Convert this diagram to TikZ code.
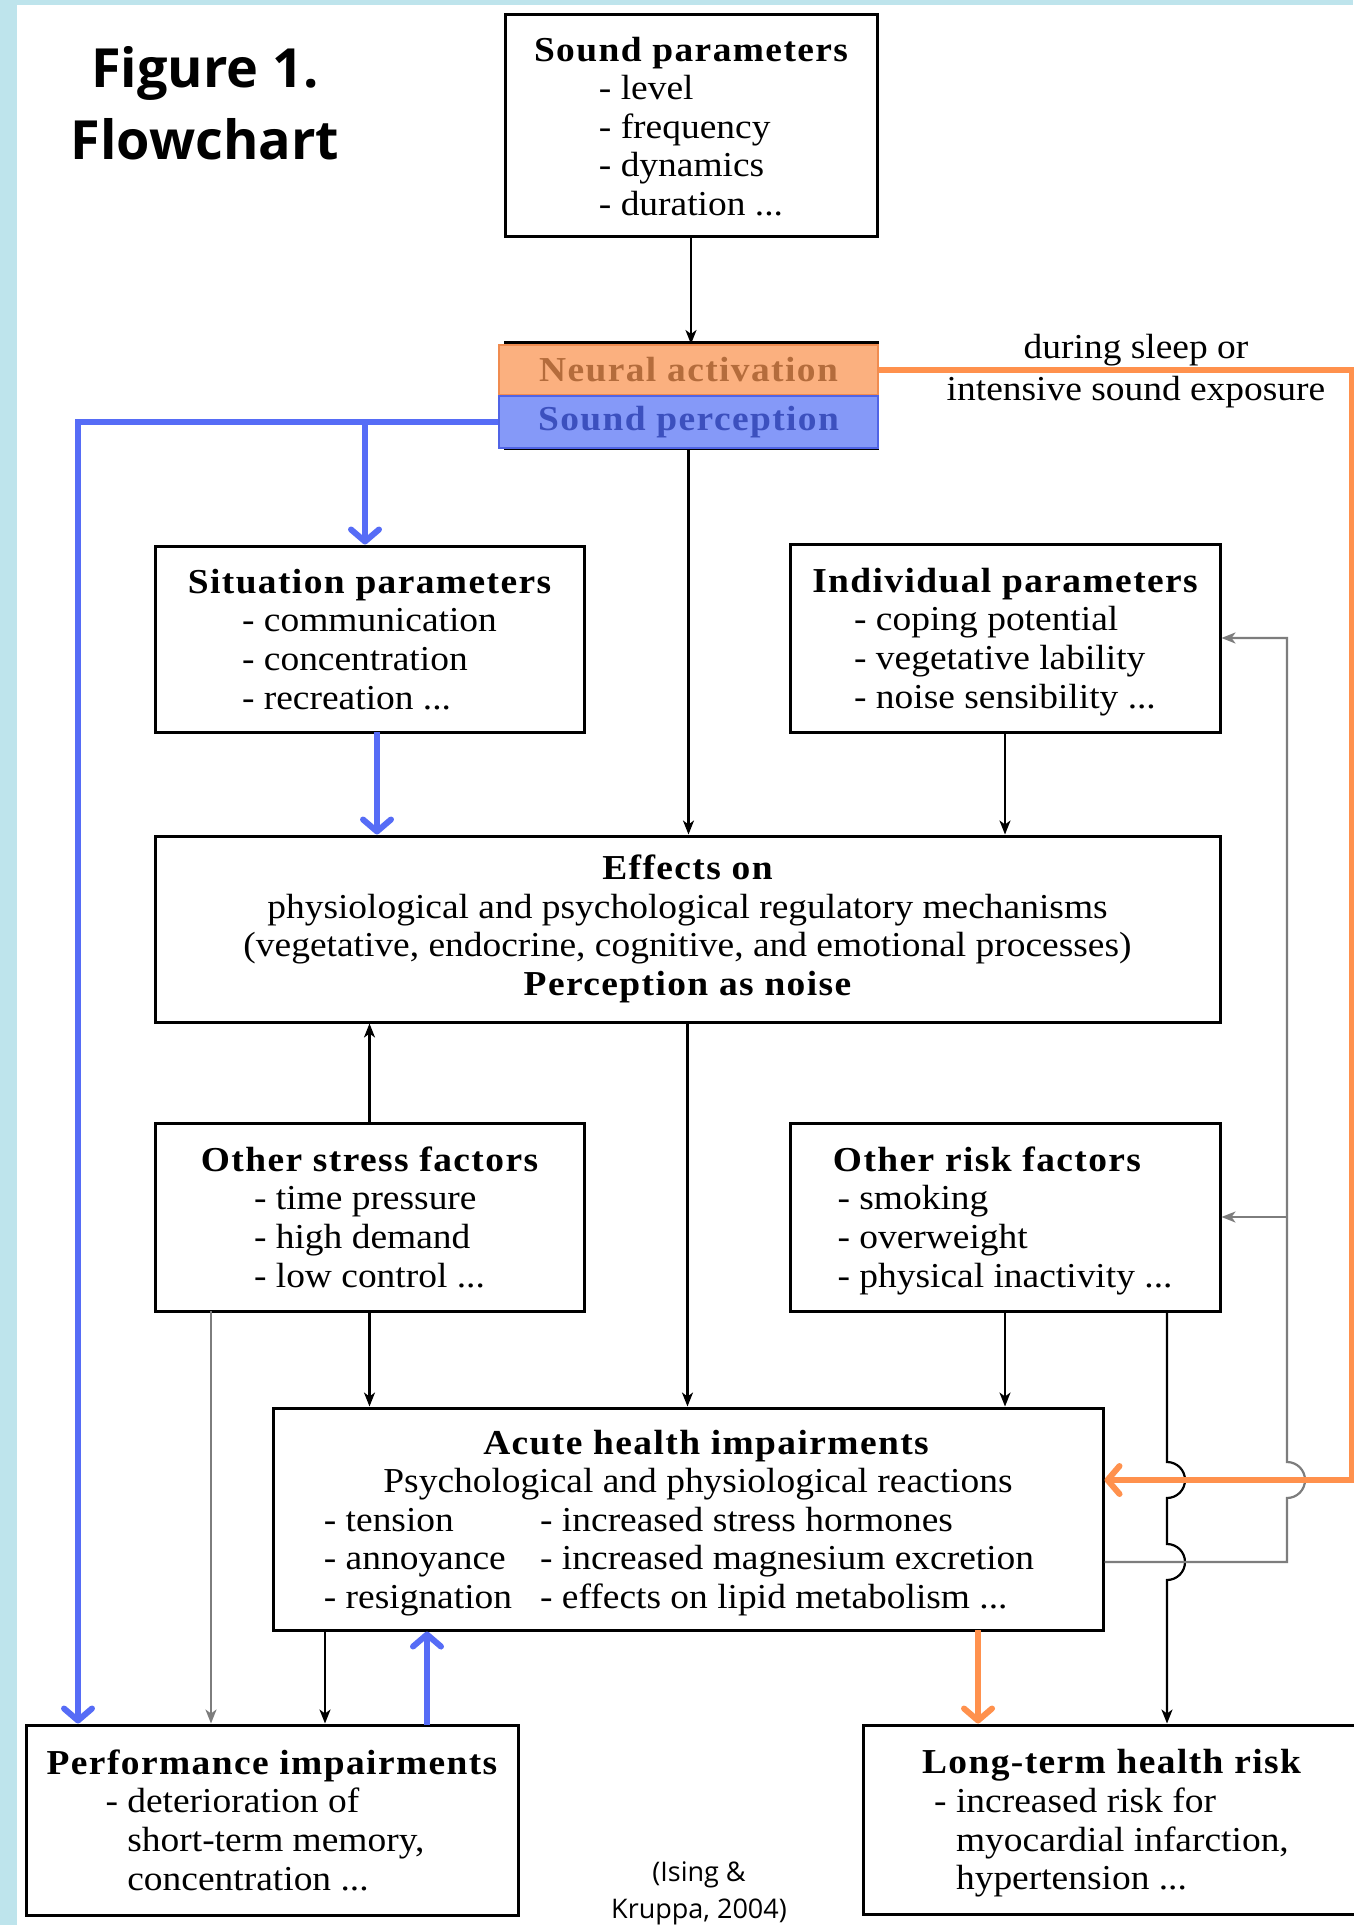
\documentclass[tikz,border=0pt]{standalone}
\usepackage{fontspec}
\setmainfont{Liberation Serif}[FakeStretch=1.07]
\newfontfamily\capfont{Open Sans}
\usetikzlibrary{arrows.meta}

\definecolor{bgblue}{RGB}{190,228,236}
\definecolor{orfill}{RGB}{251,176,127}
\definecolor{ordraw}{RGB}{240,140,80}
\definecolor{ortext}{RGB}{180,108,60}
\definecolor{blfill}{RGB}{133,153,248}
\definecolor{bldraw}{RGB}{80,100,230}
\definecolor{bltext}{RGB}{60,80,190}
\definecolor{blline}{RGB}{86,108,246}
\definecolor{orline}{RGB}{255,145,77}
\definecolor{grline}{RGB}{125,125,125}

\newcommand{\boxtitle}[1]{{\bfseries\addfontfeature{LetterSpace=4}#1}}
\newcommand{\topstrut}{\rule{0pt}{18pt}}

\tikzset{
  box/.style={draw, line width=1.5pt, fill=white, inner sep=0pt, align=center,
    font=\fontsize{17.5}{19.3}\selectfont},
  arr/.style={-{Stealth[length=7pt,width=5.5pt,inset=2pt]}, line width=1.1pt},
  thickarr/.style={line width=3pt,
    -{Straight Barb[length=6pt,width=14pt,line cap=round,line join=round]}},
}

\begin{document}
\begin{tikzpicture}[x=0.5pt,y=-0.5pt]
  \useasboundingbox (0,0) rectangle (1353,1925);
  \fill[bgblue] (0,0) rectangle (1353,1925);
  \fill[white] (17,5) rectangle (1353,1925);

  % title and source
  \node[font=\capfont\bfseries\fontsize{27}{36}\selectfont, align=center] (fig) at (205,103)
       {Figure 1.\\Flowchart};
  \node[font=\capfont\fontsize{13.5}{18.5}\selectfont, align=center] (src) at (699,1893)
       {(Ising \&\\Kruppa, 2004)};

  % boxes
  \node[box, minimum width=186pt, minimum height=111pt] (snd) at (691,126)
       {\topstrut\boxtitle{Sound parameters}\\
        \begin{tabular}[t]{@{}l@{}}- level\\- frequency\\- dynamics\\- duration ...\end{tabular}};

  \draw[line width=1.5pt] (505,343) rectangle (877,449);
  \node[draw=ordraw, fill=orfill, line width=1pt, inner sep=0pt, text=ortext,
        minimum width=189.5pt, minimum height=25pt, font=\fontsize{17.5}{19.3}\selectfont]
        (neural) at (688.5,370) {\boxtitle{Neural activation}};
  \node[draw=bldraw, fill=blfill, line width=1pt, inner sep=0pt, text=bltext,
        minimum width=189.5pt, minimum height=26pt, font=\fontsize{17.5}{19.3}\selectfont]
        (percep) at (688.5,422) {\boxtitle{Sound perception}};
  \node[font=\fontsize{17.5}{21}\selectfont, align=center] (cond) at (1136,371)
       {during sleep or\\intensive sound exposure};

  \node[box, minimum width=214.5pt, minimum height=93pt] (sit) at (369.5,639)
       {\topstrut\boxtitle{Situation parameters}\\
        \begin{tabular}[t]{@{}l@{}}- communication\\- concentration\\- recreation ...\end{tabular}};
  \node[box, minimum width=215pt, minimum height=94pt] (indiv) at (1005,638)
       {\topstrut\boxtitle{Individual parameters}\\
        \begin{tabular}[t]{@{}l@{}}- coping potential\\- vegetative lability\\- noise sensibility ...\end{tabular}};

  \node[box, minimum width=532.5pt, minimum height=93pt] (effects) at (687.5,929)
       {\boxtitle{Effects on}\\
        physiological and psychological regulatory mechanisms\\
        (vegetative, endocrine, cognitive, and emotional processes)\\
        \boxtitle{Perception as noise}};

  \node[box, minimum width=214.5pt, minimum height=94pt] (stress) at (369.5,1217)
       {\topstrut\boxtitle{Other stress factors}\\
        \begin{tabular}[t]{@{}l@{}}- time pressure\\- high demand\\- low control ...\end{tabular}};
  \node[box, minimum width=215pt, minimum height=94pt] (risk) at (1005,1217)
       {\topstrut\boxtitle{Other risk factors}\hspace*{18pt}\\
        \begin{tabular}[t]{@{}l@{}}- smoking\\- overweight\\- physical inactivity ...\end{tabular}};

  \node[box, minimum width=415pt, minimum height=111pt] (acute) at (688,1519)
       {\topstrut\hspace*{18pt}\boxtitle{Acute health impairments}\\
        \hspace*{10pt}Psychological and physiological reactions\\
        \begin{tabular}[t]{@{}l@{\hspace{14pt}}l@{}}
          - tension & - increased stress hormones\\
          - annoyance & - increased magnesium excretion\\
          - resignation & - effects on lipid metabolism ...
        \end{tabular}\hspace*{9pt}};

  \node[box, minimum width=246pt, minimum height=95pt] (perf) at (272,1820)
       {\topstrut\boxtitle{Performance impairments}\\
        \begin{tabular}[t]{@{}l@{}}- deterioration of\\\phantom{- }short-term memory,\\
        \phantom{- }concentration ...\end{tabular}\hspace*{7pt}};
  \node[box, minimum width=248.5pt, minimum height=94.5pt] (longt) at (1111.5,1819.5)
       {\topstrut\boxtitle{Long-term health risk}\\
        \begin{tabular}[t]{@{}l@{}}- increased risk for\\\phantom{- }myocardial infarction,\\
        \phantom{- }hypertension ...\end{tabular}};

  % connector points
  \coordinate (gcol) at (211,1311);
  \coordinate (bleft) at (78,422);
  \coordinate (bsplit) at (365,422);
  \coordinate (sitout) at (377,732);
  \coordinate (perfin) at (325,1630);
  \coordinate (perfup) at (427,1725);
  \coordinate (ltin) at (978,1630);
  \coordinate (ltrisk) at (1167,1311);
  \coordinate (fbx) at (1287,1562);
  \coordinate (ortop) at (1352,370);
  \coordinate (orin) at (1352,1480);

  % black flow
  \draw[arr] (snd.south) -- (snd.south |- neural.north);
  \draw[arr] (percep.south) -- (percep.south |- effects.north);
  \draw[arr] (indiv.south) -- (indiv.south |- effects.north);
  \draw[arr] (stress.north) -- (stress.north |- effects.south);
  \draw[arr] (effects.south) -- (effects.south |- acute.north);
  \draw[arr] (stress.south) -- (stress.south |- acute.north);
  \draw[arr] (risk.south) -- (risk.south |- acute.north);
  \draw[arr, grline] (gcol) -- (gcol |- perf.north);
  \draw[arr] (perfin) -- (perfin |- perf.north);

  % long-term line with hops
  \draw[arr] (ltrisk) -- (1167,1462) arc[start angle=-90, end angle=90, radius=18]
        -- (1167,1544) arc[start angle=-90, end angle=90, radius=18]
        -- (ltrisk |- longt.north);

  % feedback to individual and risk factors
  \draw[arr, grline] (acute.east |- fbx) -- (fbx) -- (1287,1498)
        arc[start angle=90, end angle=-90, radius=18]
        -- (fbx |- indiv.east) -- (indiv.east);
  \draw[arr, grline] (fbx |- risk.east) -- (risk.east);

  % highlighted paths
  \draw[thickarr, blline] (percep.west) -- (bleft) -- (bleft |- perf.north);
  \draw[thickarr, blline] (bsplit) -- (bsplit |- sit.north);
  \draw[thickarr, blline] (sitout) -- (sitout |- effects.north);
  \draw[thickarr, blline] (perfup) -- (perfup |- acute.south);
  \draw[thickarr, orline] (neural.east) -- (ortop) -- (orin) -- (orin -| acute.east);
  \draw[thickarr, orline] (ltin) -- (ltin |- longt.north);
\end{tikzpicture}
\end{document}
